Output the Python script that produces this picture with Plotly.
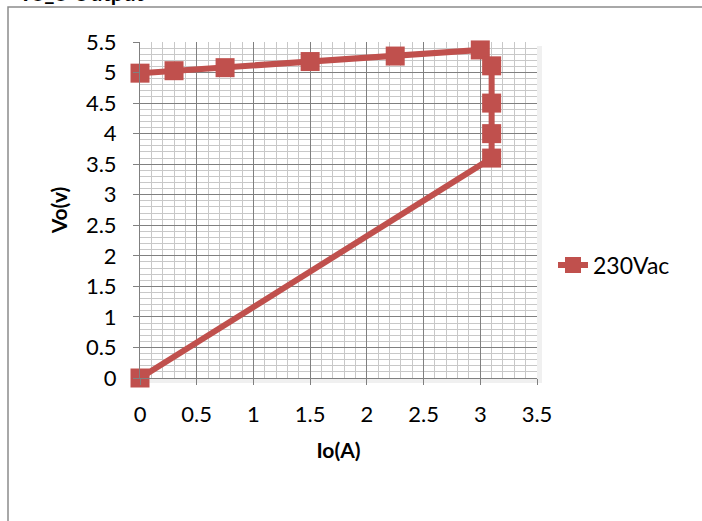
import plotly.graph_objects as go

# Data
io_a = [0.0, 0.30, 0.75, 1.50, 2.25, 3.00, 3.10, 3.10, 3.10, 3.10, 0.0]
vo_v = [4.99, 5.03, 5.08, 5.18, 5.27, 5.37, 5.11, 4.50, 4.00, 3.60, 0.0]
series_name = "230Vac"
chart_title = "Vo_o Output"
x_title = "Io(A)"
y_title = "Vo(v)"

W, H = 702, 521
L, R, T, B = 140, 165, 42, 143
pw, ph = W - L - R, H - T - B

red = "#C0504D"
major = "#808080"
minor = "#C8C8C8"
font_fam = "Lato, 'Open Sans', Arial, sans-serif"

fig = go.Figure()
fig.add_trace(go.Scatter(
    x=io_a, y=vo_v, mode="lines+markers", name=series_name,
    line=dict(color=red, width=6),
    marker=dict(symbol="square", size=19, color=red),
    cliponaxis=False,
))

def px_x(p):
    return (p - L) / pw

def px_y(p):
    return (H - B - p) / ph

shapes = [
    # chart outer border
    dict(type="rect", xref="paper", yref="paper",
         x0=px_x(8), x1=px_x(W + 5), y0=px_y(H + 5), y1=px_y(7),
         line=dict(color="#8C8C8C", width=1.5), fillcolor="rgba(0,0,0,0)", layer="below"),
    # soft shadow of plot area (right and bottom strips)
    dict(type="rect", xref="paper", yref="paper",
         x0=px_x(L + pw), x1=px_x(L + pw + 5), y0=px_y(H - B + 5), y1=px_y(T + 4),
         line=dict(width=0), fillcolor="rgba(0,0,0,0.06)", layer="below"),
    dict(type="rect", xref="paper", yref="paper",
         x0=px_x(L + 4), x1=px_x(L + pw), y0=px_y(H - B + 5), y1=px_y(H - B),
         line=dict(width=0), fillcolor="rgba(0,0,0,0.06)", layer="below"),
]

fig.update_layout(
    width=W, height=H,
    margin=dict(l=L, r=R, t=T, b=B, pad=0),
    paper_bgcolor="white", plot_bgcolor="white",
    font=dict(family=font_fam, size=22, color="black"),
    showlegend=True,
    legend=dict(x=px_x(553), y=px_y(265), xanchor="left", yanchor="middle",
                font=dict(size=23), bgcolor="rgba(0,0,0,0)"),
    shapes=shapes,
    annotations=[dict(text="<b>" + chart_title + "</b>", xref="paper", yref="paper",
                      x=px_x(15), y=px_y(-8), xanchor="left", yanchor="middle",
                      showarrow=False, font=dict(size=22))],
)

fig.update_xaxes(
    range=[0, 3.5], dtick=0.5, tick0=0,
    showgrid=True, gridcolor=major, gridwidth=1,
    minor=dict(dtick=0.1, showgrid=True, gridcolor=minor, gridwidth=1, ticks=""),
    showline=True, linecolor=major, linewidth=1,
    ticks="outside", ticklen=6, tickcolor=major,
    ticklabelstandoff=11,
    zeroline=False,
    title=dict(text="<b>" + x_title + "</b>", font=dict(size=21), standoff=16),
)
fig.update_yaxes(
    range=[0, 5.5], dtick=0.5, tick0=0,
    showgrid=True, gridcolor=major, gridwidth=1,
    minor=dict(dtick=0.1, showgrid=True, gridcolor=minor, gridwidth=1, ticks=""),
    showline=True, linecolor=major, linewidth=1,
    ticks="outside", ticklen=6, tickcolor=major,
    ticklabelstandoff=12,
    zeroline=False,
    title=dict(text="<b>" + y_title + "</b>", font=dict(size=21), standoff=12),
)

fig.write_html("out.html", config={"displayModeBar": False},
               post_script="document.body.style.margin='0px';")
